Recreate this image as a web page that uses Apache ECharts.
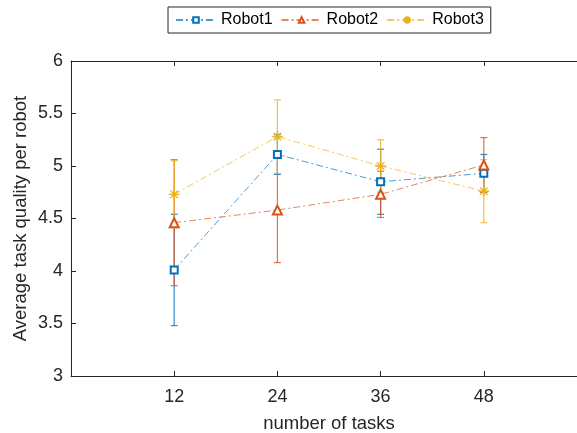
<!DOCTYPE html>
<html>
<head>
<meta charset="utf-8">
<script src="https://cdn.jsdelivr.net/npm/echarts@6/dist/echarts.min.js"></script>
<style>
  html, body { margin: 0; padding: 0; background: #fff; }
  #main { width: 577px; height: 433px; }
</style>
</head>
<body>
<div id="main"></div>
<script>
var tasks = [12, 24, 36, 48];
var robotNames = ['Robot1', 'Robot2', 'Robot3'];
var robot1Mean = [4.01, 5.11, 4.85, 4.93];
var robot1Err  = [0.53, 0.19, 0.31, 0.18];
var robot2Mean = [4.46, 4.58, 4.73, 5.01];
var robot2Err  = [0.60, 0.50, 0.22, 0.26];
var robot3Mean = [4.73, 5.28, 5.00, 4.76];
var robot3Err  = [0.32, 0.35, 0.25, 0.30];
var xTicks = [12, 24, 36, 48];

var colors = ['#0072BD', '#D95319', '#EDB120'];
var axisColor = '#262626';
var fontFam = '"Liberation Sans", Arial, Helvetica, sans-serif';

// asterisk marker (8 arms)
var starPath = 'path://M0,9.3L20,9.3L20,10.7L0,10.7Z M9.3,0L10.7,0L10.7,20L9.3,20Z ' +
    'M2.4,3.4L3.4,2.4L17.6,16.6L16.6,17.6Z M16.6,2.4L17.6,3.4L3.4,17.6L2.4,16.6Z';

var myChart = echarts.init(document.getElementById('main'));

function pairs(means) {
    return tasks.map(function (t, i) { return [t, means[i]]; });
}

function errorSeries(means, errs, color) {
    var data = tasks.map(function (t, i) {
        return [t, means[i] - errs[i], means[i] + errs[i]];
    });
    return {
        type: 'custom',
        z: 3,
        silent: true,
        data: data,
        renderItem: function (params, api) {
            var x = api.value(0);
            var top = api.coord([x, api.value(2)]);
            var bot = api.coord([x, api.value(1)]);
            var w = 3.5;
            var st = { stroke: color, lineWidth: 1.2, opacity: 0.8 };
            return {
                type: 'group',
                children: [
                    { type: 'line', shape: { x1: top[0], y1: top[1], x2: bot[0], y2: bot[1] }, style: st },
                    { type: 'line', shape: { x1: top[0] - w, y1: top[1], x2: top[0] + w, y2: top[1] }, style: st },
                    { type: 'line', shape: { x1: bot[0] - w, y1: bot[1], x2: bot[0] + w, y2: bot[1] }, style: st }
                ]
            };
        },
        encode: { x: 0, y: [1, 2] }
    };
}

function lineSeries(name, means, color, symbol, size) {
    return {
        name: name,
        type: 'line',
        z: 4,
        data: pairs(means),
        symbol: symbol,
        symbolSize: size,
        showAllSymbol: true,
        lineStyle: { color: color, width: 1, type: [7, 3, 2, 3], opacity: 0.7 },
        itemStyle: { color: color, borderColor: color, borderWidth: 0.8 }
    };
}

var axisLineStyle = { color: axisColor, width: 1 };
var labelStyle = { color: axisColor, fontSize: 18, fontFamily: fontFam };

option = {
    animation: false,
    backgroundColor: '#fff',
    grid: { left: 71, top: 61, width: 516, height: 315, containLabel: false, outerBoundsMode: 'none' },
    legend: {
        data: robotNames,
        left: 168,
        top: 7,
        orient: 'horizontal',
        borderColor: axisColor,
        borderWidth: 1,
        padding: [5, 7, 5, 7],
        itemWidth: 40,
        itemHeight: 7,
        itemGap: 8,
        textStyle: { color: '#000', fontSize: 16, fontFamily: fontFam }
    },
    xAxis: [{
        type: 'value',
        min: 0, max: 60, interval: 12,
        position: 'bottom',
        name: 'number of tasks',
        nameLocation: 'middle',
        nameGap: 38,
        nameTextStyle: { color: axisColor, fontSize: 18.5, fontFamily: fontFam },
        axisLine: { show: true, onZero: false, lineStyle: axisLineStyle },
        axisTick: { show: true, inside: true, length: 5, lineStyle: axisLineStyle },
        axisLabel: Object.assign({
            margin: 12,
            formatter: function (v) { return xTicks.indexOf(v) >= 0 ? String(v) : ''; }
        }, labelStyle),
        splitLine: { show: false }
    }, {
        type: 'value',
        min: 0, max: 60, interval: 12,
        position: 'top',
        axisLine: { show: true, onZero: false, lineStyle: axisLineStyle },
        axisTick: { show: true, inside: true, length: 5, lineStyle: axisLineStyle },
        axisLabel: { show: false },
        splitLine: { show: false }
    }],
    yAxis: [{
        type: 'value',
        min: 3, max: 6, interval: 0.5,
        position: 'left',
        name: 'Average task quality per robot',
        nameLocation: 'middle',
        nameGap: 41,
        nameMoveOverlap: false,
        nameTextStyle: { color: axisColor, fontSize: 18.5, fontFamily: fontFam },
        axisLine: { show: true, onZero: false, lineStyle: axisLineStyle },
        axisTick: { show: true, inside: true, length: 5, lineStyle: axisLineStyle },
        axisLabel: Object.assign({ margin: 8 }, labelStyle),
        splitLine: { show: false }
    }, {
        type: 'value',
        min: 3, max: 6, interval: 0.5,
        position: 'right',
        axisLine: { show: true, onZero: false, lineStyle: axisLineStyle },
        axisTick: { show: true, inside: true, length: 5, lineStyle: axisLineStyle },
        axisLabel: { show: false },
        splitLine: { show: false }
    }],
    series: [
        errorSeries(robot1Mean, robot1Err, colors[0]),
        errorSeries(robot2Mean, robot2Err, colors[1]),
        errorSeries(robot3Mean, robot3Err, colors[2]),
        lineSeries('Robot1', robot1Mean, colors[0], 'emptyRect', 7),
        lineSeries('Robot2', robot2Mean, colors[1], 'emptyTriangle', 9),
        lineSeries('Robot3', robot3Mean, colors[2], starPath, 10)
    ]
};

myChart.setOption(option);
</script>
</body>
</html>
